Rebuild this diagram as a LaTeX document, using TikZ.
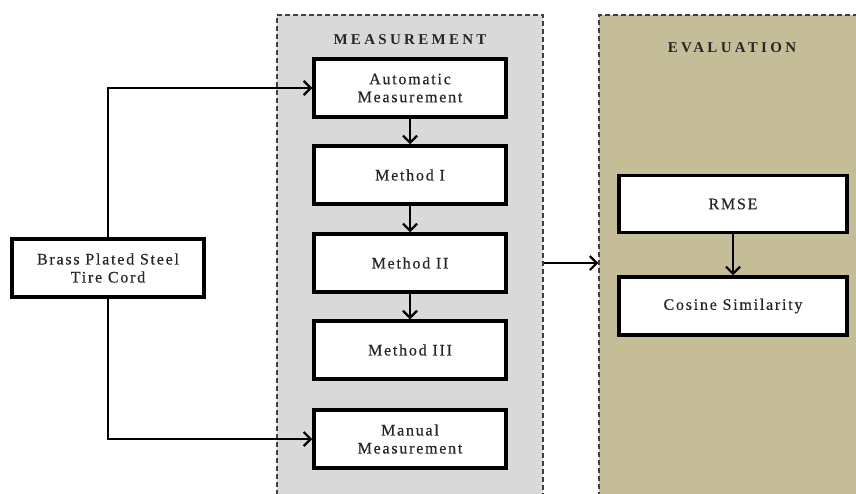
\documentclass[tikz,border=0pt]{standalone}
\usepackage{fontspec}
\setmainfont{Liberation Serif}
\usetikzlibrary{arrows.meta}
\definecolor{measgray}{HTML}{D9D9D9}
\definecolor{evaltan}{HTML}{C4BD97}
\tikzset{
  stagebox/.style={draw, line width=3.5pt, fill=white, text=black!85, align=center,
    minimum width=192pt, minimum height=58pt, inner sep=0pt,
    font=\fontsize{16}{18}\selectfont\addfontfeatures{LetterSpace=11,FakeBold=0.4}},
  panel/.style={draw=black!75, line width=1.3pt, dash pattern=on 5pt off 3pt,
    minimum height=505pt, inner sep=0pt},
  paneltitle/.style={text=black!85, font=\fontsize{15}{18}\selectfont\bfseries\addfontfeatures{LetterSpace=22}},
  flow/.style={line width=2.2pt, -{Straight Barb[length=7pt,width=14pt,line width=2.2pt]}}
}
\begin{document}
\begin{tikzpicture}[x=1pt, y=-1pt]
  \useasboundingbox (0,0) rectangle (856,493);
  \clip (0,0) rectangle (856,493);
  % panels
  \node[panel, fill=measgray, minimum width=266pt] (meas) at (410,267.5) {};
  \node[panel, fill=evaltan, minimum width=281pt] (eval) at (739.5,267.5) {};
  \node[paneltitle] (meastitle) at (410,40) {MEASUREMENT};
  \node[paneltitle] (evaltitle) at (732,48) {EVALUATION};
  % boxes
  \node[stagebox] (cord) at (108,268) {Brass Plated Steel\\Tire Cord};
  \node[stagebox] (auto) at (410,88) {Automatic\\Measurement};
  \node[stagebox] (m1) at (410,175) {Method I};
  \node[stagebox] (m2) at (410,263) {Method II};
  \node[stagebox] (m3) at (410,350) {Method III};
  \node[stagebox] (manual) at (410,439) {Manual\\Measurement};
  \node[stagebox, minimum width=228pt, minimum height=57pt] (rmse) at (733,204) {RMSE};
  \node[stagebox, minimum width=228pt] (cosine) at (733,306) {Cosine Similarity};
  % connectors
  \draw[flow] (cord.north) |- (auto.west);
  \draw[flow] (cord.south) |- (manual.west);
  \foreach \a/\b in {auto/m1, m1/m2, m2/m3, rmse/cosine}
    \draw[flow] (\a) -- (\b);
  \draw[flow] (meas.east |- m2) -- (eval.west |- m2);
\end{tikzpicture}
\end{document}
